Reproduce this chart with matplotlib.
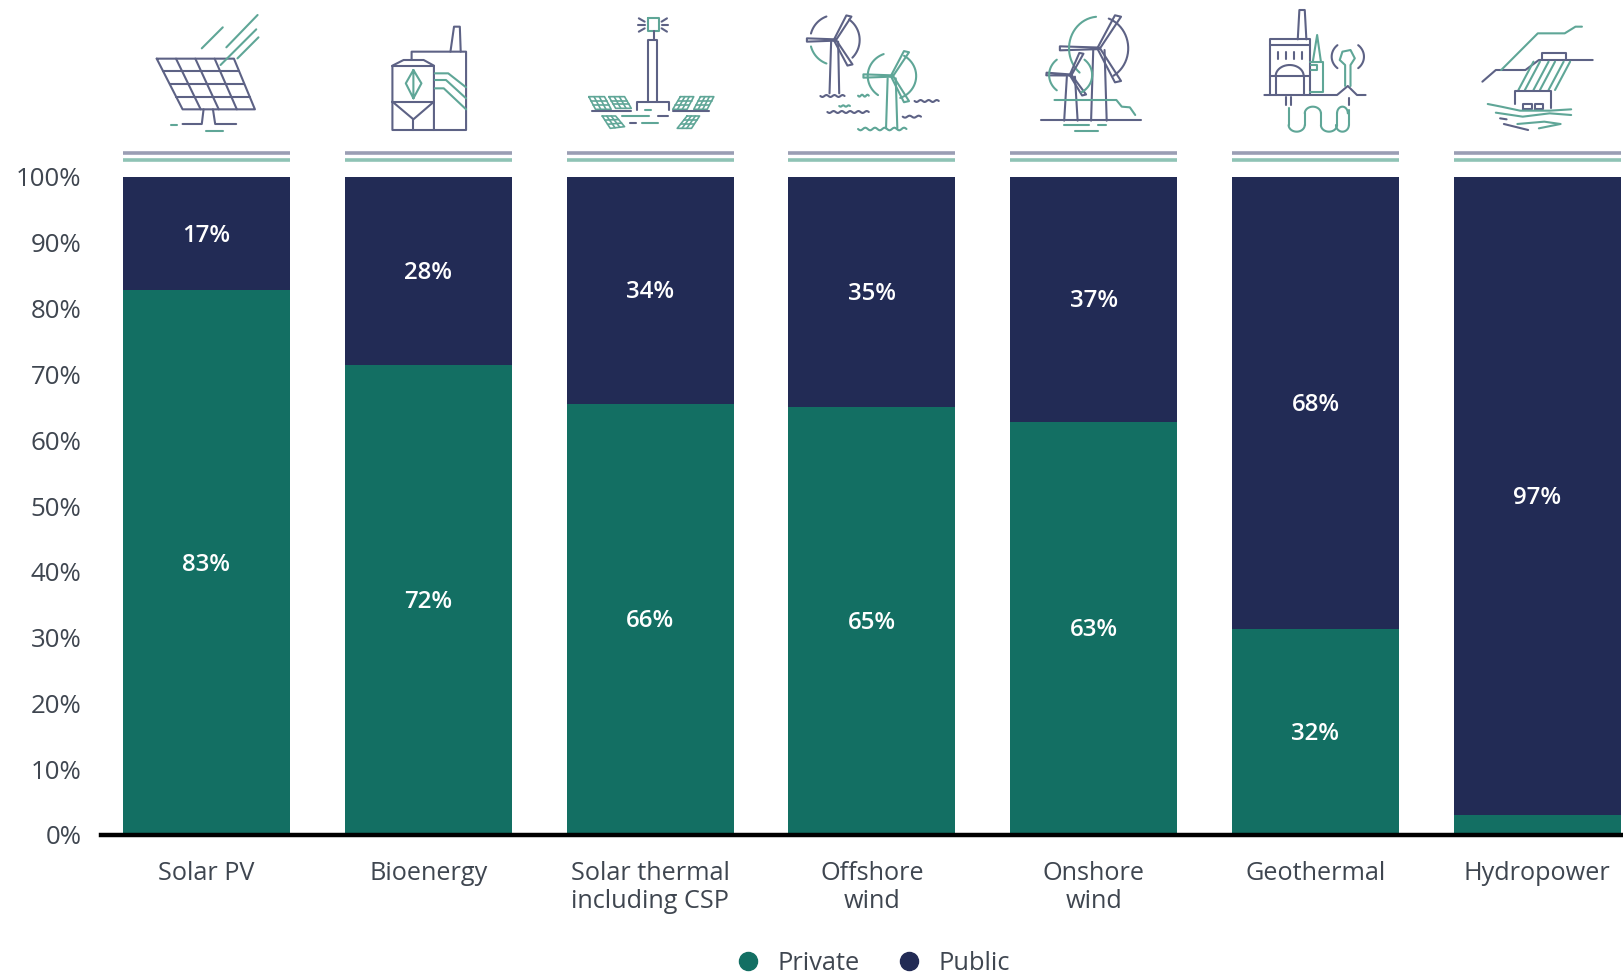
import numpy as np
import matplotlib.pyplot as plt
from matplotlib.lines import Line2D

categories = ["Solar PV", "Bioenergy", "Solar thermal\nincluding CSP", "Offshore\nwind",
              "Onshore\nwind", "Geothermal", "Hydropower"]
private = [82.8, 71.5, 65.5, 65.0, 62.8, 31.3, 3.1]
public = [17.2, 28.5, 34.5, 35.0, 37.2, 68.7, 96.9]
private_labels = ["83%", "72%", "66%", "65%", "63%", "32%", ""]
public_labels = ["17%", "28%", "34%", "35%", "37%", "68%", "97%"]
y_ticks = [0, 10, 20, 30, 40, 50, 60, 70, 80, 90, 100]

GREEN = "#136f63"
NAVY = "#222b55"
TEXT = "#3f4650"
ICON_NAVY = "#5d6285"
ICON_GREEN = "#5fa697"
W, H = 1624, 974
PITCH = 221.8
FIRST = 206.5
BAR_PX = 167
AX_LEFT = 101

plt.rcParams["font.family"] = ["Open Sans", "DejaVu Sans"]

fig = plt.figure(figsize=(W / 100, H / 100), dpi=100)
ax = fig.add_axes([AX_LEFT / W, 1 - 835 / H, (W - AX_LEFT) / W, (835 - 177) / H])

x = np.arange(len(categories))
bar_w = BAR_PX / PITCH
ax.bar(x, private, bar_w, color=GREEN)
ax.bar(x, public, bar_w, bottom=private, color=NAVY)

for i in x:
    ax.text(i, private[i] / 2 - 0.3, private_labels[i], color="white", ha="center", va="center",
            fontsize=17.3, fontweight="semibold")
    ax.text(i, private[i] + public[i] / 2 - 0.3, public_labels[i], color="white", ha="center",
            va="center", fontsize=17.3, fontweight="semibold")

ax.set_xlim((AX_LEFT - FIRST) / PITCH, (W - FIRST) / PITCH)
ax.set_ylim(0, 100)
ax.set_xticks(x, categories)
ax.set_yticks(y_ticks, [f"{v}%" for v in y_ticks])
ax.tick_params(axis="x", length=0, pad=19, labelsize=18.2, labelcolor=TEXT)
ax.tick_params(axis="y", length=0, pad=14, labelsize=18.6, labelcolor=TEXT)
for lab in ax.get_xticklabels():
    lab.set_linespacing(1.13)
for side in ["top", "left", "right"]:
    ax.spines[side].set_visible(False)
ax.spines["bottom"].set_linewidth(3.2)
ax.spines["bottom"].set_color("black")
ax.spines["bottom"].set_zorder(5)

handles = [Line2D([], [], marker="o", ls="", ms=13, color=GREEN, label="Private"),
           Line2D([], [], marker="o", ls="", ms=13, color=NAVY, label="Public")]
fig.legend(handles=handles, loc="center", bbox_to_anchor=(866 / W, 1 - 963 / H), ncol=2,
           frameon=False, fontsize=18.3, labelcolor=TEXT, handletextpad=0.15, columnspacing=0.95)

# icons and double rules sit on a full figure overlay in pixel coordinates
ov = fig.add_axes([0, 0, 1, 1], facecolor="none")
ov.set_xlim(0, W)
ov.set_ylim(H, 0)
ov.axis("off")

for i in x:
    left = FIRST + PITCH * i - BAR_PX / 2
    ov.plot([left, left + BAR_PX], [153, 153], color="#9a9eb4", lw=2.6, solid_capstyle="butt")
    ov.plot([left, left + BAR_PX], [159.5, 159.5], color="#8fc3b5", lw=2.6, solid_capstyle="butt")


def crop1(pts):
    return [(100 + a / 2.24, b / 3) for a, b in pts]


def crop2(pts):
    return [(780 + a / 1.858, b / 3) for a, b in pts]


def line(conv, pts, color=ICON_NAVY, lw=1.5):
    p = conv(pts)
    ov.plot([a for a, _ in p], [b for _, b in p], color=color, lw=lw,
            solid_joinstyle="round", solid_capstyle="round")


def arc(conv, cx, cy, rx, ry, start, end, color=ICON_NAVY, lw=1.5):
    t = np.radians(np.linspace(start, end, 24))
    line(conv, list(zip(cx + rx * np.cos(t), cy + ry * np.sin(t))), color, lw)


def wave(conv, x0, x1, y0, color=ICON_NAVY, amp=4, n=4):
    xs = np.linspace(x0, x1, n * 8 + 1)
    ys = y0 + amp * np.sin((xs - x0) / (x1 - x0) * n * 2 * np.pi)
    line(conv, list(zip(xs, ys)), color)


def panel(conv, tl, tr, br, bl, color, nx=4, ny=4, lw=1.5):
    tl, tr, br, bl = map(np.array, (tl, tr, br, bl))
    line(conv, [tl, tr, br, bl, tl], color, lw)
    for k in range(1, nx):
        f = k / nx
        line(conv, [tl + (tr - tl) * f, bl + (br - bl) * f], color, lw)
    for k in range(1, ny):
        f = k / ny
        line(conv, [tl + (bl - tl) * f, tr + (br - tr) * f], color, lw)


def blade(conv, hub, tip, color=ICON_NAVY, w=5):
    hub, tip = np.array(hub, float), np.array(tip, float)
    d = tip - hub
    n = np.array([-d[1], d[0]]) / np.hypot(*d) * w
    line(conv, [hub + n * 0.4, tip + n, tip - n, hub - n * 0.4, hub + n * 0.4], color)


# solar PV
panel(crop1, (127, 176), (300, 176), (347, 328), (185, 328), ICON_NAVY)
line(crop1, [(232, 328), (228, 372), (185, 372)])
line(crop1, [(253, 328), (258, 372), (305, 372)])
line(crop1, [(158, 375), (172, 375)], ICON_GREEN)
line(crop1, [(238, 392), (275, 392)], ICON_GREEN)
line(crop1, [(228, 145), (275, 82)], ICON_GREEN)
line(crop1, [(283, 142), (353, 45)], ICON_GREEN)
line(crop1, [(270, 195), (350, 88)], ICON_GREEN)
line(crop1, [(308, 175), (355, 112)], ICON_GREEN)

# bioenergy
line(crop1, [(785, 155), (793, 80), (806, 80), (808, 155)])
line(crop1, [(698, 178), (698, 155), (820, 155), (820, 390), (655, 390), (655, 197), (680, 180),
             (725, 180), (748, 197), (748, 390)])
line(crop1, [(655, 197), (748, 197)])
line(crop1, [(655, 305), (748, 305)])
line(crop1, [(655, 305), (702, 358), (748, 305)])
line(crop1, [(702, 358), (702, 390)])
line(crop1, [(702, 210), (720, 250), (702, 295), (685, 250), (702, 210), (702, 295)], ICON_GREEN)
line(crop1, [(750, 220), (780, 220), (820, 262)], ICON_GREEN)
line(crop1, [(750, 240), (775, 240), (820, 295)], ICON_GREEN)
line(crop1, [(750, 265), (770, 265), (820, 328)], ICON_GREEN)

# solar thermal
line(crop1, [(1227, 305), (1227, 120), (1248, 120), (1248, 305)])
line(crop1, [(1203, 330), (1203, 305), (1275, 305), (1275, 330)])
line(crop1, [(1228, 55), (1252, 55), (1252, 92), (1228, 92), (1228, 55)], ICON_GREEN)
line(crop1, [(1240, 92), (1240, 120)])
for a, b, c, d in [(1207, 55, 1220, 65), (1205, 75, 1220, 75), (1207, 95, 1220, 85),
                   (1270, 55, 1258, 65), (1272, 75, 1258, 75), (1270, 95, 1258, 85)]:
    line(crop1, [(a, b), (c, d)])
panel(crop1, (1095, 290), (1130, 290), (1145, 328), (1110, 328), ICON_GREEN, 3, 3, 1.2)
panel(crop1, (1140, 290), (1175, 290), (1190, 325), (1155, 325), ICON_GREEN, 3, 3, 1.2)
panel(crop1, (1300, 290), (1330, 290), (1315, 328), (1283, 328), ICON_GREEN, 3, 3, 1.2)
panel(crop1, (1345, 290), (1375, 290), (1360, 328), (1330, 328), ICON_GREEN, 3, 3, 1.2)
panel(crop1, (1125, 348), (1155, 348), (1175, 380), (1143, 385), ICON_GREEN, 3, 3, 1.2)
panel(crop1, (1315, 348), (1343, 348), (1325, 385), (1293, 385), ICON_GREEN, 3, 3, 1.2)
line(crop1, [(1103, 333), (1190, 333)])
line(crop1, [(1283, 333), (1365, 333)])
line(crop1, [(1170, 348), (1230, 348)], ICON_GREEN)
line(crop1, [(1250, 348), (1272, 348)])
line(crop1, [(1188, 370), (1200, 370)])
line(crop1, [(1215, 370), (1250, 370)], ICON_GREEN)
line(crop1, [(1220, 330), (1235, 330)], ICON_GREEN)

# offshore wind
for tip in [(50, 120), (128, 48), (130, 195)]:
    blade(crop2, (102, 120), tip)
line(crop2, [(95, 125), (92, 280)])
line(crop2, [(108, 125), (110, 280)])
arc(crop2, 102, 120, 46, 75, 195, 250)
arc(crop2, 102, 120, 46, 75, -55, 45)
arc(crop2, 102, 120, 46, 75, 110, 165, ICON_GREEN)
wave(crop2, 75, 120, 288, amp=3, n=3)
for tip in [(155, 228), (235, 155), (235, 305)]:
    blade(crop2, (208, 228), tip, ICON_GREEN)
line(crop2, [(200, 235), (197, 385)], ICON_GREEN)
line(crop2, [(215, 235), (218, 385)], ICON_GREEN)
arc(crop2, 208, 228, 45, 70, 125, 250, ICON_GREEN)
arc(crop2, 208, 228, 45, 70, -60, 70, ICON_GREEN)
wave(crop2, 145, 235, 387, ICON_GREEN, n=5)
wave(crop2, 145, 165, 287, ICON_GREEN, amp=3, n=2)
wave(crop2, 250, 295, 303, amp=3, n=3)
wave(crop2, 228, 262, 350, amp=3, n=2)
wave(crop2, 88, 165, 336, amp=3, n=5)
wave(crop2, 110, 130, 318, ICON_GREEN, amp=2, n=2)

# onshore wind
for tip in [(520, 145), (628, 48), (628, 245)]:
    blade(crop2, (592, 145), tip, w=6)
line(crop2, [(582, 150), (578, 362)])
line(crop2, [(603, 150), (607, 362)])
arc(crop2, 592, 145, 55, 95, 130, 265, ICON_GREEN)
arc(crop2, 592, 145, 55, 95, -70, 60)
for tip in [(495, 222), (560, 160), (565, 285)]:
    blade(crop2, (540, 225), tip, w=4)
line(crop2, [(533, 230), (528, 362)])
line(crop2, [(548, 230), (553, 362)])
arc(crop2, 540, 225, 40, 60, 130, 230, ICON_GREEN)
arc(crop2, 540, 225, 40, 60, -50, 60, ICON_GREEN)
line(crop2, [(485, 360), (670, 360)])
line(crop2, [(510, 300), (625, 300), (635, 320), (650, 322), (660, 345)], ICON_GREEN)
line(crop2, [(528, 375), (575, 375)], ICON_GREEN)
line(crop2, [(590, 375), (605, 375)], ICON_GREEN)
line(crop2, [(548, 392), (590, 392)], ICON_GREEN)

# geothermal
line(crop2, [(962, 118), (965, 30), (975, 30), (978, 118)])
line(crop2, [(910, 285), (910, 118), (985, 118), (985, 285)])
line(crop2, [(910, 135), (985, 135)])
line(crop2, [(910, 228), (985, 228)])
line(crop2, [(922, 285), (922, 228)])
line(crop2, [(973, 285), (973, 228)])
arc(crop2, 947, 228, 26, 33, 180, 360)
for wx in [925, 940, 955, 970]:
    line(crop2, [(wx, 155), (wx, 178)])
line(crop2, [(985, 185), (1008, 185), (1008, 275), (985, 275)], ICON_GREEN)
line(crop2, [(990, 185), (998, 105), (1005, 185)], ICON_GREEN)
line(crop2, [(987, 195), (998, 195), (998, 210), (987, 210)], ICON_GREEN)
line(crop2, [(900, 285), (1035, 285), (1055, 258), (1072, 285), (1088, 285)])
line(crop2, [(1050, 258), (1050, 195), (1040, 180), (1045, 155), (1060, 150), (1068, 175),
             (1060, 195), (1060, 258)], ICON_GREEN)
arc(crop2, 1055, 170, 30, 45, 130, 230)
arc(crop2, 1055, 170, 30, 45, -50, 50)
line(crop2, [(940, 290), (940, 315)])
line(crop2, [(950, 290), (950, 315)])
line(crop2, [(1057, 295), (1057, 315)])
line(crop2, [(945, 325), (945, 375)], ICON_GREEN)
arc(crop2, 960, 375, 15, 20, 180, 0, ICON_GREEN)
line(crop2, [(975, 375), (975, 340)], ICON_GREEN)
arc(crop2, 990, 340, 15, 20, 180, 360, ICON_GREEN)
line(crop2, [(1005, 340), (1005, 375)], ICON_GREEN)
arc(crop2, 1020, 375, 15, 20, 180, 0, ICON_GREEN)
line(crop2, [(1035, 375), (1035, 340)], ICON_GREEN)
arc(crop2, 1045, 340, 10, 20, 180, 360, ICON_GREEN)
line(crop2, [(1057, 330), (1057, 375)], ICON_GREEN)
arc(crop2, 1045, 375, 12, 20, 0, 180, ICON_GREEN)

# hydropower
line(crop2, [(1305, 245), (1330, 210), (1385, 210), (1410, 180), (1510, 180)])
line(crop2, [(1340, 210), (1408, 100), (1458, 100), (1478, 80), (1490, 80)], ICON_GREEN)
line(crop2, [(1415, 180), (1415, 160), (1460, 160), (1460, 180)])
for dx in [0, 12, 28, 40, 56, 68]:
    line(crop2, [(1400 + dx, 185), (1372 + dx, 270)], ICON_GREEN)
line(crop2, [(1365, 312), (1365, 272), (1432, 272), (1432, 325)])
line(crop2, [(1380, 328), (1380, 312), (1398, 312), (1398, 328), (1380, 328)])
line(crop2, [(1402, 328), (1402, 312), (1418, 312), (1418, 328), (1402, 328)])
line(crop2, [(1315, 312), (1340, 320), (1375, 332), (1430, 332), (1470, 328)], ICON_GREEN)
line(crop2, [(1330, 338), (1380, 350), (1430, 340), (1470, 345)], ICON_GREEN)
line(crop2, [(1338, 355), (1350, 358)])
line(crop2, [(1370, 372), (1420, 365), (1450, 372)], ICON_GREEN)
line(crop2, [(1345, 372), (1390, 390)])
line(crop2, [(1410, 385), (1450, 372)], ICON_GREEN)

fig.savefig("out.png", dpi=100)
